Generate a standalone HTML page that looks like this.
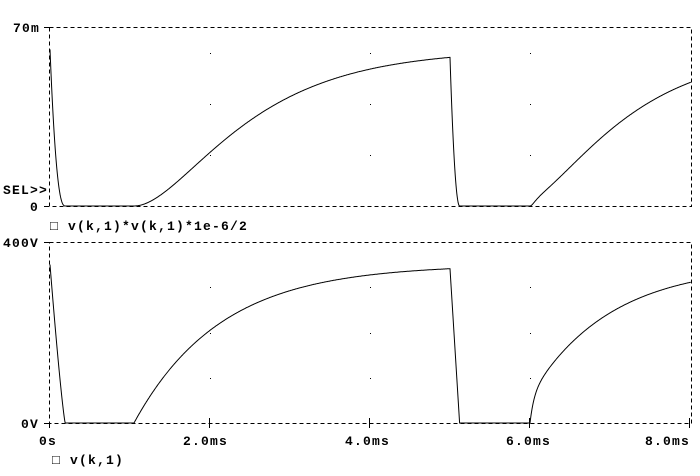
<!DOCTYPE html>
<html><head><style>
body{margin:0;background:#fff;}
svg text{font-family:"Liberation Mono",monospace;font-weight:bold;font-size:13px;letter-spacing:1.2px;fill:#000;}
</style></head><body>
<svg id="s" width="700" height="471" xmlns="http://www.w3.org/2000/svg">
<g stroke="#000" stroke-width="1" stroke-dasharray="4,3" fill="none">
<rect x="49.5" y="27.5" width="642" height="179"/>
<rect x="49.5" y="242.5" width="642" height="181"/>
</g>
<g stroke="#000" stroke-width="1">
<line x1="44" y1="27.5" x2="49" y2="27.5"/><line x1="44" y1="206.5" x2="49" y2="206.5"/>
<line x1="44" y1="242.5" x2="49" y2="242.5"/><line x1="44" y1="423.5" x2="49" y2="423.5"/>
<line x1="49.5" y1="423" x2="49.5" y2="428"/><line x1="209.5" y1="418" x2="209.5" y2="428"/>
<line x1="369.5" y1="418" x2="369.5" y2="428"/><line x1="529.5" y1="418" x2="529.5" y2="428"/>
<line x1="689.5" y1="418" x2="689.5" y2="428"/>
</g>
<g id="dots" fill="#000"></g>
<path id="p1" fill="none" stroke="#000" stroke-width="1"/>
<path id="p2" fill="none" stroke="#000" stroke-width="1"/>
<text x="13" y="32">70m</text>
<text x="3" y="194">SEL&gt;&gt;</text>
<text x="30" y="211">0</text>
<text x="50" y="230">□ v(k,1)*v(k,1)*1e-6/2</text>
<text x="3" y="247">400V</text>
<text x="21" y="428">0V</text>
<text x="39" y="445">0s</text>
<text x="183" y="445">2.0ms</text>
<text x="345" y="445">4.0ms</text>
<text x="506" y="445">6.0ms</text>
<text x="645" y="445">8.0ms</text>
<text x="52" y="464">□ v(k,1)</text>
</svg>
<script>
function V(t){
 if(t<0.19) return 350*Math.pow(1-t/0.19,1.2);
 if(t<1.05) return 0;
 if(t<5.0) return 350*(1-Math.exp(-(t-1.05)/1.08));
 if(t<5.12){var v=350*(1-Math.exp(-(5.0-1.05)/1.08));return v*(1-(t-5.0)/0.12);}
 if(t<6.0) return 0;
 var d=t-6.0;
 return 290*(1-Math.exp(-d/1.0))+60*(1-Math.exp(-d/0.05));
}
var d1="",d2="";
for(var i=0;i<=1602;i++){var t=i*0.005;var x=50+t*80;if(x>691)break;var v=V(t);
 var y2=423-v*0.4525, y1=206-v*v*0.5e-6*2557;
 d1+=(i?"L":"M")+x.toFixed(1)+" "+y1.toFixed(1);
 d2+=(i?"L":"M")+x.toFixed(1)+" "+y2.toFixed(1);}
document.getElementById("p1").setAttribute("d",d1);
document.getElementById("p2").setAttribute("d",d2);
var g=document.getElementById("dots"),h="";
[210,370,530].forEach(function(x){[53,104,155,287,333,378].forEach(function(y){h+='<rect x="'+x+'" y="'+y+'" width="1" height="1"/>';});});
g.innerHTML=h;
</script>
</body></html>
